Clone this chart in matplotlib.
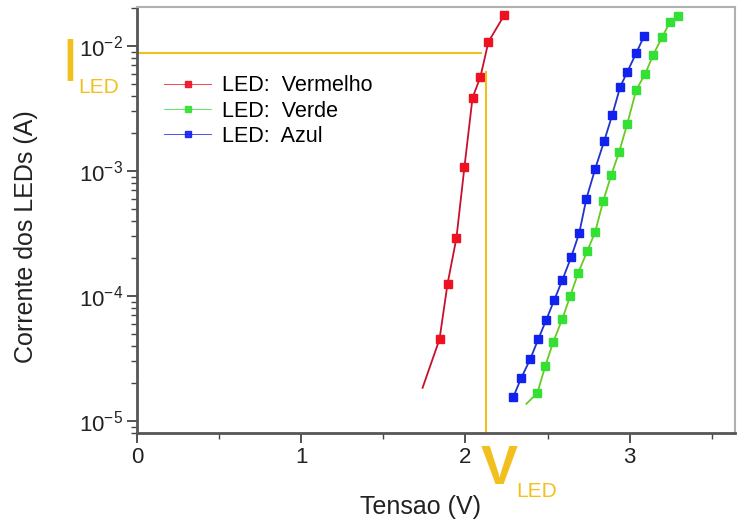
import numpy as np
import matplotlib.pyplot as plt
from matplotlib.ticker import LogLocator, MultipleLocator, NullFormatter

plt.rcParams['font.family'] = ['Liberation Sans', 'DejaVu Sans']

# LED I-V curves
red_v = [1.842, 1.891, 1.945, 1.994, 2.043, 2.091, 2.140, 2.237]
red_i = [4.5e-5, 1.25e-4, 2.9e-4, 1.08e-3, 3.84e-3, 5.65e-3, 1.08e-2, 1.77e-2]
red_tail = (1.739, 1.84e-5)

green_v = [2.438, 2.486, 2.535, 2.590, 2.638, 2.687, 2.742, 2.790, 2.839,
           2.888, 2.936, 2.985, 3.040, 3.094, 3.143, 3.198, 3.246, 3.295]
green_i = [1.67e-5, 2.75e-5, 4.29e-5, 6.55e-5, 1.0e-4, 1.53e-4, 2.29e-4,
           3.25e-4, 5.75e-4, 9.3e-4, 1.42e-3, 2.38e-3, 4.45e-3, 5.97e-3,
           8.47e-3, 1.18e-2, 1.56e-2, 1.74e-2]
green_tail = (2.371, 1.37e-5)

blue_v = [2.292, 2.340, 2.395, 2.444, 2.492, 2.541, 2.590, 2.644, 2.693,
          2.736, 2.790, 2.845, 2.894, 2.942, 2.985, 3.040, 3.088]
blue_i = [1.56e-5, 2.21e-5, 3.13e-5, 4.53e-5, 6.43e-5, 9.3e-5, 1.34e-4,
          2.05e-4, 3.19e-4, 5.97e-4, 1.04e-3, 1.74e-3, 2.81e-3, 4.70e-3,
          6.19e-3, 8.79e-3, 1.20e-2]

labels = ['LED:  Vermelho', 'LED:  Verde', 'LED:  Azul']

# operating point markers
i_led = 8.8e-3
v_led = 2.128
v_cross = 2.097
i_cross = 6.2e-3

gold = '#f2c01e'

fig = plt.figure(figsize=(7.46, 5.26), dpi=100)
ax = fig.add_axes([0.1836, 0.1768, 0.8014, 0.8099])
ax.set_yscale('log')

ax.plot(np.r_[red_tail[0], red_v], np.r_[red_tail[1], red_i],
        color='#c8102e', lw=1.3)
ax.plot(np.r_[green_tail[0], green_v], np.r_[green_tail[1], green_i],
        color='#66cc22', lw=1.3)
ax.plot(blue_v, blue_i, color='#2233cc', lw=1.3)

handles = []
for v, i, c in [(red_v, red_i, '#ee1122'), (green_v, green_i, '#33e033'),
                (blue_v, blue_i, '#1122ee')]:
    ax.plot(v, i, 's', color=c, ms=5.8, mec=c)
    h, = ax.plot([], [], '-s', color=c, ms=5, lw=0.6, alpha=0.9)
    handles.append(h)

ax.plot([0, v_cross], [i_led, i_led], color=gold, lw=1.5, clip_on=False)
ax.plot([v_led, v_led], [i_cross, 8.0e-6], color=gold, lw=1.5, clip_on=False)

ax.legend(handles, labels, loc='upper left', bbox_to_anchor=(0.02, 0.875),
          frameon=False, fontsize=15.5, handlelength=2.2, handletextpad=0.5,
          labelspacing=0.2, borderpad=0.2)

ax.set_xlim(0, 3.64)
ax.set_ylim(8.0e-6, 2.05e-2)

ax.xaxis.set_major_locator(MultipleLocator(1))
ax.xaxis.set_minor_locator(MultipleLocator(0.5))
ax.yaxis.set_major_locator(LogLocator(base=10))
ax.yaxis.set_minor_locator(LogLocator(base=10, subs=np.arange(2, 10)))
ax.yaxis.set_minor_formatter(NullFormatter())

ax.tick_params(which='major', direction='out', length=7, width=1.3,
               color='#444444', labelsize=16, labelcolor='#222222', pad=3)
ax.tick_params(which='minor', direction='out', length=4, width=1.0,
               color='#444444')
ax.tick_params(top=False, right=False)

for side in ['left', 'bottom']:
    ax.spines[side].set_color('#555555')
    ax.spines[side].set_linewidth(2)
for side in ['top', 'right']:
    ax.spines[side].set_color('#b0b0b0')
    ax.spines[side].set_linewidth(1.5)

ax.set_xlabel('Tensao (V)', fontsize=18, color='#222222')
ax.set_ylabel('Corrente dos LEDs (A)', fontsize=18, color='#222222')
ax.xaxis.set_label_coords(0.475, -0.145)
ax.yaxis.set_label_coords(-0.165, 0.462)

# I_LED and V_LED annotations
fig.text(0.094, 0.876, 'I', color=gold, fontsize=44,
         ha='center', va='center')
fig.text(0.1046, 0.833, 'LED', color=gold, fontsize=15, ha='left',
         va='center')
fig.text(0.669, 0.106, 'V', color=gold, fontsize=40, fontweight='bold',
         ha='center', va='center')
fig.text(0.692, 0.066, 'LED', color=gold, fontsize=15, ha='left',
         va='center')

fig.savefig('out.png', dpi=100)
